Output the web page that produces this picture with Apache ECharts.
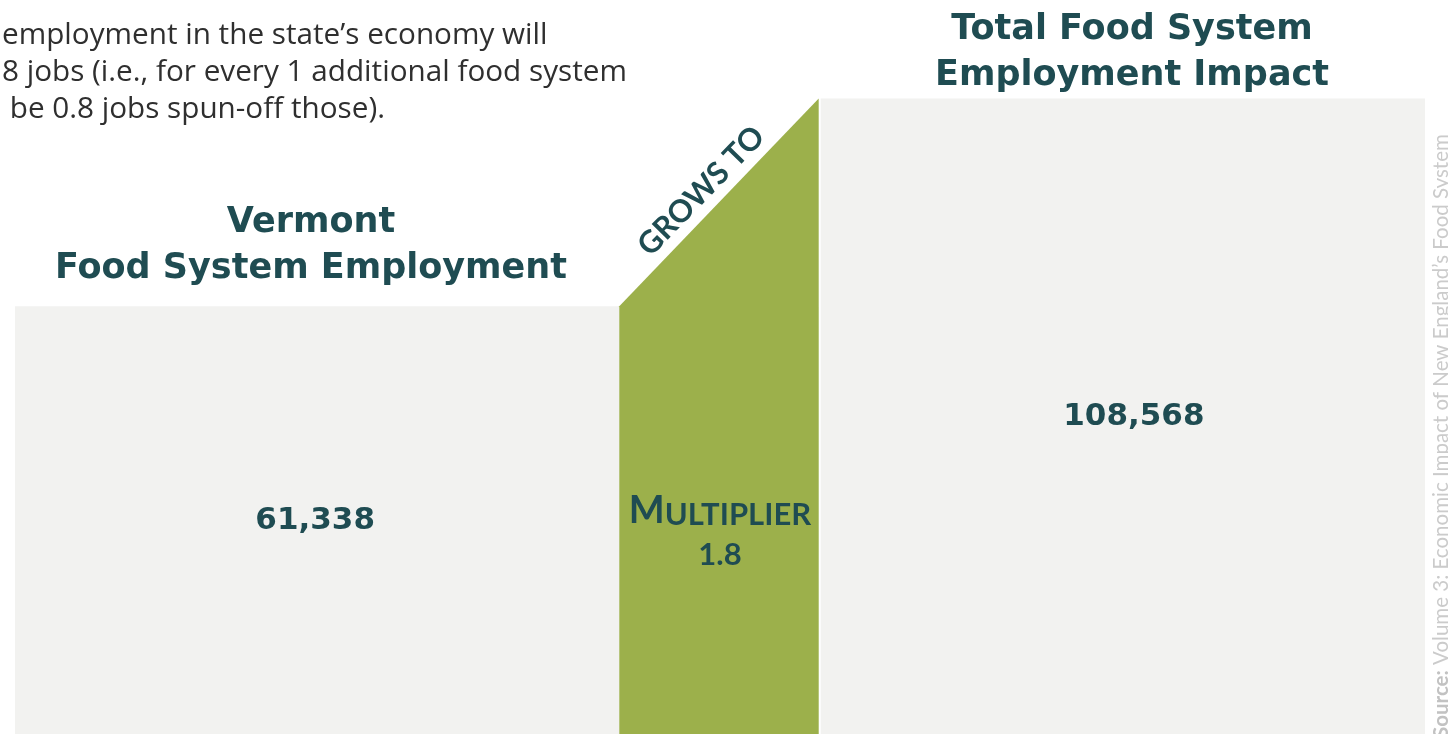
<!DOCTYPE html>
<html>
<head>
<meta charset="utf-8">
<title>Vermont Food System Employment Multiplier</title>
<script src="https://cdn.jsdelivr.net/npm/echarts@6/dist/echarts.min.js"></script>
<style>
  html, body { margin: 0; padding: 0; background: #ffffff; }
  #chart { width: 1448px; height: 734px; }
</style>
</head>
<body>
<div id="chart"></div>
<script>
// Employment figures
const categories = ['Vermont\nFood System Employment', 'Total Food System\nEmployment Impact'];
const employment = [61338, 108568];
const multiplierValue = 1.8;
const connectorLabel = 'GROWS TO';
const introLines = [
  'employment in the state\u2019s economy will',
  '8 jobs (i.e., for every 1 additional food system',
  ' be 0.8 jobs spun-off those).'
];
const sourceNote = 'Volume 3: Economic Impact of New England\u2019s Food System';

// Horizontal bands (in x-axis units): direct bar, connector, total bar
const bands = [[0, 3], [3, 4], [4, 7]];
const Y_MIN = -36000, Y_MAX = 131000;

const TEAL = '#1f4c52';
const GREY = '#f2f2f0';
const GREEN = '#9cb04b';
const HEAD_FONT = '"DejaVu Sans", Lato, sans-serif';
const fmt = v => v.toLocaleString('en-US');

const barData = [
  [bands[0][0], bands[0][1], employment[0]],
  [bands[2][0], bands[2][1], employment[1]]
];
const connectorData = [[bands[1][0], bands[1][1], employment[0], employment[1]]];

const chart = echarts.init(document.getElementById('chart'), null, { renderer: 'canvas' });

function barItem(params, api) {
  const x0 = api.value(0), x1 = api.value(1), v = api.value(2);
  const tl = api.coord([x0, v]);
  const br = api.coord([x1, Y_MIN]);
  return {
    type: 'rect',
    shape: { x: tl[0], y: tl[1], width: br[0] - tl[0], height: br[1] - tl[1] },
    style: { fill: GREY },
    textContent: {
      type: 'text',
      style: {
        text: fmt(v),
        fill: TEAL,
        font: 'bold 31px ' + HEAD_FONT
      }
    },
    textConfig: { position: 'inside', offset: [params.dataIndex === 1 ? 11 : -2, 1] }
  };
}

function connectorItem(params, api) {
  const x0 = api.value(0), x1 = api.value(1);
  const vL = api.value(2), vR = api.value(3);
  const pTL = api.coord([x0, vL]);
  const pTR = api.coord([x1, vR]);
  const pBR = api.coord([x1, Y_MIN]);
  const pBL = api.coord([x0, Y_MIN]);
  const angle = Math.atan2(pTL[1] - pTR[1], pTR[0] - pTL[0]);
  const mx = (pTL[0] + pTR[0]) / 2, my = (pTL[1] + pTR[1]) / 2;
  const off = 22;
  const gx = mx - Math.sin(angle) * off - 3;
  const gy = my - Math.cos(angle) * off + 4;
  const cx = (pTL[0] + pTR[0]) / 2;
  const cy = (pTL[1] + pBL[1]) / 2 + 9;
  return {
    type: 'group',
    children: [
      {
        type: 'polygon',
        shape: { points: [pTL, [pTR[0] - 2, pTR[1]], [pBR[0] - 2, pBR[1]], pBL] },
        style: { fill: GREEN }
      },
      {
        type: 'text',
        x: gx, y: gy, rotation: angle,
        style: {
          text: connectorLabel,
          align: 'center', verticalAlign: 'middle',
          fill: TEAL,
          font: 'bold 31px Lato, "Open Sans", sans-serif'
        }
      },
      {
        type: 'text',
        x: cx, y: cy,
        style: {
          text: '{m|M}{s|ULTIPLIER}\n{n|' + multiplierValue.toFixed(1) + '}',
          align: 'center', verticalAlign: 'middle',
          fill: TEAL,
          rich: {
            m: { font: 'bold 38px Lato, sans-serif', fill: TEAL, lineHeight: 42, verticalAlign: 'bottom' },
            s: { font: 'bold 31px Lato, sans-serif', fill: TEAL, lineHeight: 42, verticalAlign: 'bottom' },
            n: { font: 'bold 31px Lato, sans-serif', fill: TEAL, lineHeight: 40, verticalAlign: 'bottom' }
          }
        }
      }
    ]
  };
}

const headingStyle = {
  color: TEAL,
  fontFamily: HEAD_FONT,
  fontWeight: 'bold',
  fontSize: 35,
  lineHeight: 46,
  align: 'center'
};

const option = {
  backgroundColor: '#ffffff',
  animation: false,
  grid: { left: 15, right: 23, top: 0, bottom: -9 },
  xAxis: { type: 'value', min: 0, max: 7, show: false },
  yAxis: { type: 'value', min: Y_MIN, max: Y_MAX, show: false },
  title: [
    { text: categories[0], left: 306, top: 195, textAlign: 'center', textStyle: headingStyle },
    { text: categories[1], left: 1127, top: 2, textAlign: 'center', textStyle: headingStyle }
  ],
  graphic: [
    {
      type: 'text', left: 2, top: 17,
      style: {
        text: introLines.join('\n'),
        font: '29.7px "Open Sans", Lato, sans-serif',
        lineHeight: 37,
        fill: '#2f2f2f'
      }
    },
    {
      type: 'text',
      x: 1441, y: 738,
      rotation: Math.PI / 2,
      style: {
        text: '{b|Source:} ' + sourceNote,
        align: 'left', verticalAlign: 'middle',
        fill: '#cbcbcb',
        font: '20.5px Lato, sans-serif',
        rich: { b: { font: 'bold 20.5px Lato, sans-serif', fill: '#c2c2c2' } }
      }
    }
  ],
  series: [
    {
      type: 'custom',
      renderItem: barItem,
      data: barData,
      encode: { x: [0, 1], y: 2 },
      clip: false,
      silent: true
    },
    {
      type: 'custom',
      renderItem: connectorItem,
      data: connectorData,
      encode: { x: [0, 1], y: [2, 3] },
      clip: false,
      silent: true
    }
  ]
};

chart.setOption(option);
</script>
</body>
</html>
